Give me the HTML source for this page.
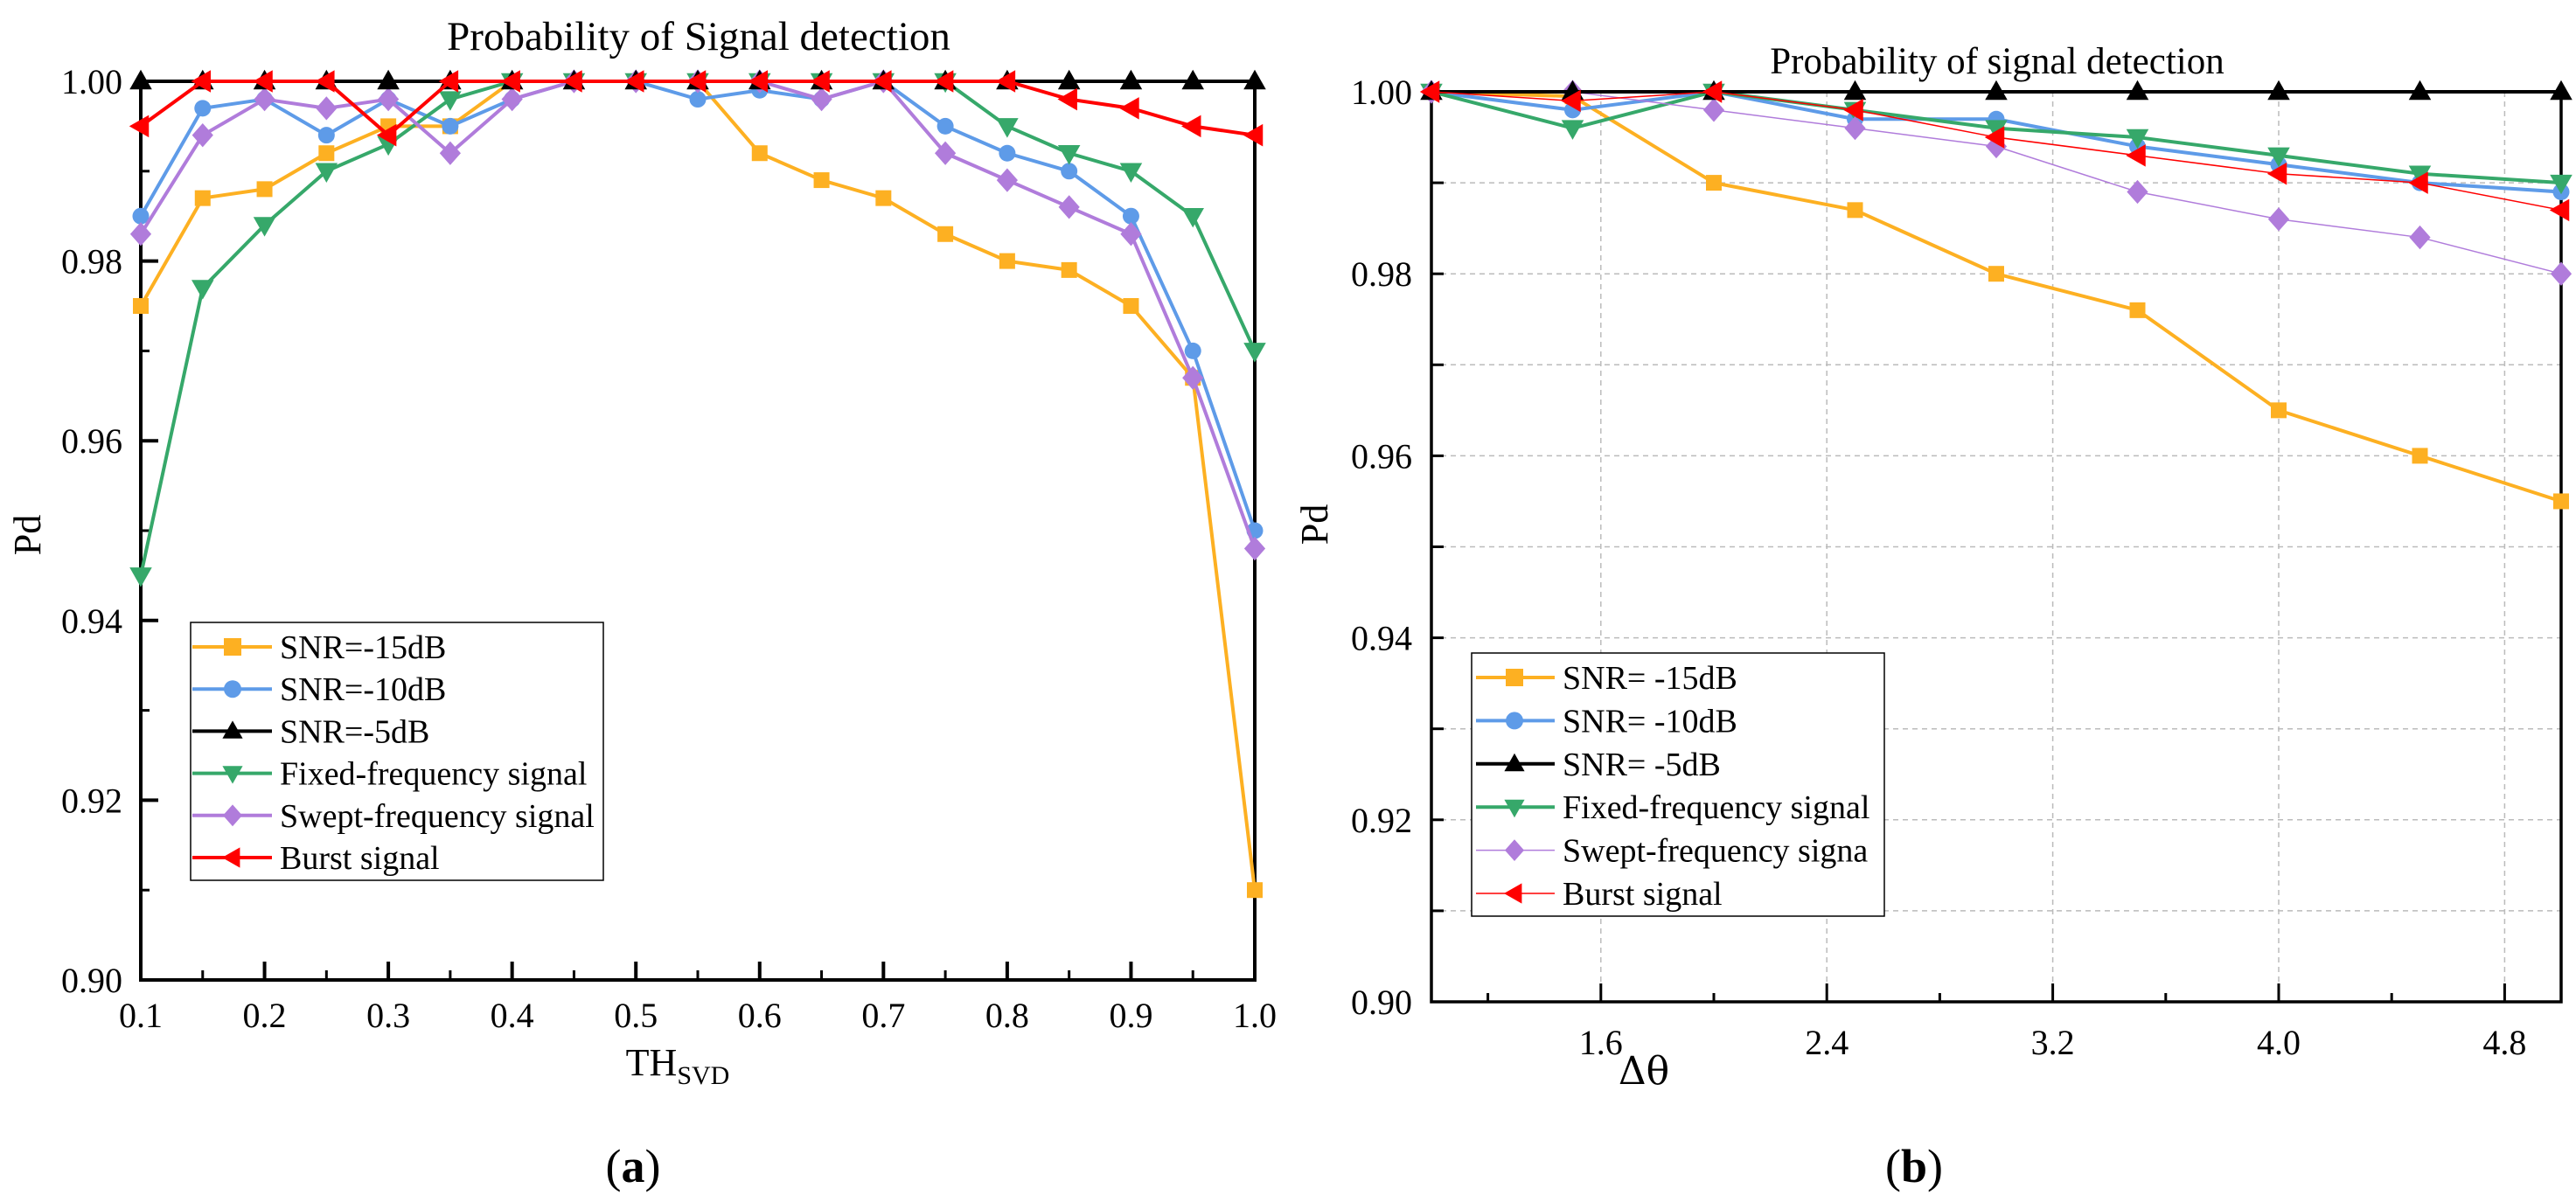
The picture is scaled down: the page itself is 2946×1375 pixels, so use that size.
<!DOCTYPE html>
<html><head><meta charset="utf-8"><style>
html,body{margin:0;padding:0;background:#fff;}
svg{display:block;font-family:"Liberation Serif",serif;}
</style></head><body>
<svg id="svg" xmlns="http://www.w3.org/2000/svg" width="2946" height="1375" viewBox="0 0 2946 1375">
<g id="ga"></g>
<g id="gb"></g>
</svg>
<script>
// ---------- Chart (a) data ----------
const xA = [0.1,0.15,0.2,0.25,0.3,0.35,0.4,0.45,0.5,0.55,0.6,0.65,0.7,0.75,0.8,0.85,0.9,0.95,1.0];
const aSnr15 = [0.975,0.987,0.988,0.992,0.995,0.995,1,1,1,1,0.992,0.989,0.987,0.983,0.980,0.979,0.975,0.967,0.910];
const aSnr10 = [0.985,0.997,0.998,0.994,0.998,0.995,0.998,1,1,0.998,0.999,0.998,1,0.995,0.992,0.990,0.985,0.970,0.950];
const aSnr5 = [1,1,1,1,1,1,1,1,1,1,1,1,1,1,1,1,1,1,1];
const aFixed = [0.945,0.977,0.984,0.990,0.993,0.998,1,1,1,1,1,1,1,1,0.995,0.992,0.990,0.985,0.970];
const aSwept = [0.983,0.994,0.998,0.997,0.998,0.992,0.998,1,1,1,1,0.998,1,0.992,0.989,0.986,0.983,0.967,0.948];
const aBurst = [0.995,1,1,1,0.994,1,1,1,1,1,1,1,1,1,1,0.998,0.997,0.995,0.994];
const aXTicks = ["0.1","0.2","0.3","0.4","0.5","0.6","0.7","0.8","0.9","1.0"];
const aYTicks = ["0.90","0.92","0.94","0.96","0.98","1.00"];
const aLegend = ["SNR=-15dB","SNR=-10dB","SNR=-5dB","Fixed-frequency signal","Swept-frequency signal","Burst signal"];
// ---------- Chart (b) data ----------
const xB = [1.0,1.5,2.0,2.5,3.0,3.5,4.0,4.5,5.0];
const bSnr15 = [1,0.9995,0.990,0.987,0.980,0.976,0.965,0.960,0.955];
const bSnr10 = [1,0.998,1,0.997,0.997,0.994,0.992,0.990,0.989];
const bSnr5 = [1,1,1,1,1,1,1,1,1];
const bFixed = [1,0.996,1,0.998,0.996,0.995,0.993,0.991,0.990];
const bSwept = [1,1,0.998,0.996,0.994,0.989,0.986,0.984,0.980];
const bBurst = [1,0.999,1,0.998,0.995,0.993,0.991,0.990,0.987];
const bXTicks = ["1.6","2.4","3.2","4.0","4.8"];
const bYTicks = ["0.90","0.92","0.94","0.96","0.98","1.00"];
const bLegend = ["SNR= -15dB","SNR= -10dB","SNR= -5dB","Fixed-frequency signal","Swept-frequency signa","Burst signal"];

const NS="http://www.w3.org/2000/svg";
function mk(parent,tag,attrs,text){const e=document.createElementNS(NS,tag);for(const k in attrs)e.setAttribute(k,attrs[k]);if(text!==undefined)e.textContent=text;parent.appendChild(e);return e;}
const COL={o:"#FDB022",b:"#5E9BE8",k:"#000000",g:"#36A86A",p:"#B07CDB",r:"#FF0000"};

function marker(g,type,cx,cy,col,s){
  let m;
  if(type==="sq") m=mk(g,"rect",{x:cx-s/2,y:cy-s/2,width:s,height:s,fill:col});
  else if(type==="ci") m=mk(g,"circle",{cx:cx,cy:cy,r:s/2,fill:col});
  else if(type==="up") m=mk(g,"polygon",{points:`${cx},${cy-s*0.6} ${cx-s*0.58},${cy+s*0.42} ${cx+s*0.58},${cy+s*0.42}`,fill:col});
  else if(type==="dn") m=mk(g,"polygon",{points:`${cx},${cy+s*0.6} ${cx-s*0.58},${cy-s*0.42} ${cx+s*0.58},${cy-s*0.42}`,fill:col});
  else if(type==="di") m=mk(g,"polygon",{points:`${cx},${cy-s*0.62} ${cx+s*0.55},${cy} ${cx},${cy+s*0.62} ${cx-s*0.55},${cy}`,fill:col});
  else m=mk(g,"polygon",{points:`${cx-s*0.6},${cy} ${cx+s*0.42},${cy-s*0.58} ${cx+s*0.42},${cy+s*0.58}`,fill:col});
  
  
  return m;
}

function series(g,xs,ys,X,Y,col,type,w,ms,name){
  const sg=mk(g,"g",{});
  
  
  const pts=xs.map((x,i)=>X(x)+","+Y(ys[i])).join(" ");
  const pl=mk(sg,"polyline",{points:pts,fill:"none",stroke:col,"stroke-width":w,"stroke-linejoin":"round"});
  
  
  xs.forEach((x,i)=>marker(sg,type,X(x),Y(ys[i]),col,ms));
}

// ================= Chart A =================
(function(){
  const g=document.getElementById("ga");
  const L=161,R=1435,T=93,B=1121;
  const X=v=>L+(v-0.1)/0.9*(R-L);
  const Y=v=>B-(v-0.90)/0.10*(B-T);
  // y ticks
  aYTicks.forEach(t=>{const v=parseFloat(t);const y=Y(v);
    mk(g,"line",{x1:L,x2:L+20,y1:y,y2:y,stroke:"#000","stroke-width":4});
    const tx=mk(g,"text",{x:140,y:y+14,"text-anchor":"end","font-size":40},t);
    
    
  });
  for(let i=0;i<5;i++){const y=Y(0.91+i*0.02);mk(g,"line",{x1:L,x2:L+10,y1:y,y2:y,stroke:"#000","stroke-width":3});}
  aXTicks.forEach(t=>{const v=parseFloat(t);const x=X(v);
    mk(g,"line",{x1:x,x2:x,y1:B,y2:B-21,stroke:"#000","stroke-width":4});
    const tx=mk(g,"text",{x:x,y:B+54,"text-anchor":"middle","font-size":40},t);
    
    
  });
  for(let i=0;i<9;i++){const x=X(0.15+i*0.1);mk(g,"line",{x1:x,x2:x,y1:B,y2:B-11,stroke:"#000","stroke-width":3});}
  // axes
  mk(g,"path",{d:`M${L},${T-6} L${L},${B} L${R},${B} L${R},${T-6}`,fill:"none",stroke:"#000","stroke-width":4});
  // series
  series(g,xA,aSnr15,X,Y,COL.o,"sq",4,18,"series-snr-15");
  series(g,xA,aSnr10,X,Y,COL.b,"ci",4,19,"series-snr-10");
  series(g,xA,aFixed,X,Y,COL.g,"dn",4,22,"series-fixed");
  series(g,xA,aSwept,X,Y,COL.p,"di",4,22,"series-swept");
  series(g,xA,aSnr5,X,Y,COL.k,"up",4,22,"series-snr-5");
  series(g,xA,aBurst,X,Y,COL.r,"lt",4,22,"series-burst");
  // title
  const ti=mk(g,"text",{x:799,y:57,"text-anchor":"middle","font-size":47},"Probability of Signal detection");
  
  
  const yl=mk(g,"text",{x:0,y:0,"text-anchor":"middle","font-size":44,transform:"translate(46,612) rotate(-90)"},"Pd");
  
  
  const xl=mk(g,"text",{x:775,y:1230,"font-size":44,"text-anchor":"middle"});
  
  
  mk(xl,"tspan",{},"TH");
  mk(xl,"tspan",{"font-size":30,dy:10},"SVD");
  const cap=mk(g,"text",{x:724,y:1352,"text-anchor":"middle","font-size":54},"(");
  
  
  mk(cap,"tspan",{"font-weight":"bold"},"a");
  mk(cap,"tspan",{},")");
  // legend
  const lg=mk(g,"g",{});
  
  
  mk(lg,"rect",{x:218,y:712,width:472,height:295,fill:"#fff",stroke:"#000","stroke-width":1.5});
  const types=["sq","ci","up","dn","di","lt"],cols=[COL.o,COL.b,COL.k,COL.g,COL.p,COL.r];
  aLegend.forEach((t,i)=>{const y=740+i*48.2;
    const eg=mk(lg,"g",{});
    
    
    mk(eg,"line",{x1:220,x2:311,y1:y,y2:y,stroke:cols[i],"stroke-width":4});
    marker(eg,types[i],266,y,cols[i],20);
    mk(eg,"text",{x:320,y:y+13,"font-size":38},t);
  });
})();

// ================= Chart B =================
(function(){
  const g=document.getElementById("gb");
  const L=1637,R=2929,T=105,B=1146;
  const X=v=>L+(v-1.0)/4.0*(R-L);
  const Y=v=>B-(v-0.90)/0.10*(B-T);
  // grid
  for(let i=1;i<10;i++){const y=Y(0.90+i*0.01);mk(g,"line",{x1:L,x2:R,y1:y,y2:y,stroke:"#bbb","stroke-width":1.5,"stroke-dasharray":"6,5"});}
  bXTicks.forEach(t=>{const x=X(parseFloat(t));mk(g,"line",{x1:x,x2:x,y1:T,y2:B,stroke:"#bbb","stroke-width":1.5,"stroke-dasharray":"6,5"});});
  // ticks
  for(let i=0;i<=10;i++){const y=Y(0.90+i*0.01);mk(g,"line",{x1:L,x2:L+14,y1:y,y2:y,stroke:"#000","stroke-width":3});}
  bYTicks.forEach(t=>{const y=Y(parseFloat(t));
    const tx=mk(g,"text",{x:1615,y:y+14,"text-anchor":"end","font-size":40},t);
    
    
  });
  bXTicks.forEach(t=>{const x=X(parseFloat(t));
    mk(g,"line",{x1:x,x2:x,y1:B,y2:B-21,stroke:"#000","stroke-width":3});
    const tx=mk(g,"text",{x:x,y:B+60,"text-anchor":"middle","font-size":40},t);
    
    
  });
  for(let i=0;i<6;i++){const x=X(1.2+i*0.8);mk(g,"line",{x1:x,x2:x,y1:B,y2:B-10,stroke:"#000","stroke-width":3});}
  mk(g,"path",{d:`M${L},${T} L${L},${B} L${R},${B} L${R},${T}`,fill:"none",stroke:"#000","stroke-width":3.5});
  series(g,xB,bSnr15,X,Y,COL.o,"sq",4,18,"series-snr-15");
  series(g,xB,bSnr10,X,Y,COL.b,"ci",4,19,"series-snr-10");
  series(g,xB,bFixed,X,Y,COL.g,"dn",4,22,"series-fixed");
  series(g,xB,bSwept,X,Y,COL.p,"di",1.5,22,"series-swept");
  series(g,xB,bSnr5,X,Y,COL.k,"up",4,22,"series-snr-5");
  series(g,xB,bBurst,X,Y,COL.r,"lt",1.5,22,"series-burst");
  const ti=mk(g,"text",{x:2284,y:84,"text-anchor":"middle","font-size":43},"Probability of signal detection");
  
  
  const yl=mk(g,"text",{x:0,y:0,"text-anchor":"middle","font-size":44,transform:"translate(1518,600) rotate(-90)"},"Pd");
  
  
  const xl=mk(g,"text",{x:1880,y:1240,"text-anchor":"middle","font-size":44,"font-family":"DejaVu Serif, serif"},"Δθ");
  
  
  const cap=mk(g,"text",{x:2189,y:1352,"text-anchor":"middle","font-size":54},"(");
  
  
  mk(cap,"tspan",{"font-weight":"bold"},"b");
  mk(cap,"tspan",{},")");
  const lg=mk(g,"g",{});
  
  
  mk(lg,"rect",{x:1683,y:747,width:472,height:301,fill:"#fff",stroke:"#000","stroke-width":1.5});
  const types=["sq","ci","up","dn","di","lt"],cols=[COL.o,COL.b,COL.k,COL.g,COL.p,COL.r],ws=[4,4,4,4,1.5,1.5];
  bLegend.forEach((t,i)=>{const y=775+i*49.4;
    const eg=mk(lg,"g",{});
    
    
    mk(eg,"line",{x1:1688,x2:1778,y1:y,y2:y,stroke:cols[i],"stroke-width":ws[i]});
    marker(eg,types[i],1732,y,cols[i],20);
    mk(eg,"text",{x:1787,y:y+13,"font-size":38},t);
  });
})();
</script>
</body></html>
